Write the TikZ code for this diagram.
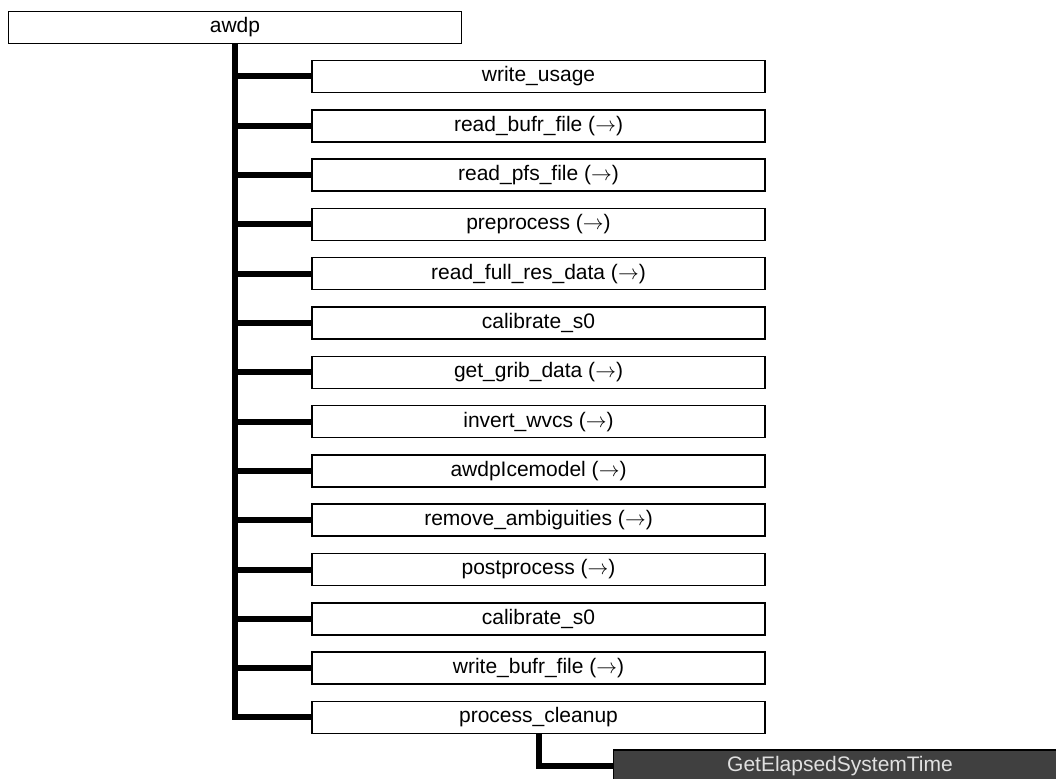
\documentclass[tikz,border=0pt]{standalone}
\usepackage{fontspec}
\setmainfont{Liberation Sans}
\definecolor{extcall}{HTML}{404040}

\begin{document}
\begin{tikzpicture}[x=1pt, y=-1pt,
    routine/.style={draw, line width=1.5pt, fill=white, minimum width=453pt,
          minimum height=32pt, inner sep=0pt, font=\fontsize{21}{24}\selectfont},
    external/.style={routine, fill=extcall, text=white!88!black},
    calls/.style={line width=6pt}]
    \useasboundingbox (0,0) rectangle (1056,778);
    \clip (0,0) rectangle (1056,778);

    % main program
    \node[routine] (awdp) at (235,27.5) {awdp};

    % routines called by awdp
    \node[routine] (usage)   at (538.5,76.5)  {write\_usage};
    \node[routine] (bufrin)  at (538.5,125.8) {read\_bufr\_file ($\rightarrow$)};
    \node[routine] (pfsin)   at (538.5,175.1) {read\_pfs\_file ($\rightarrow$)};
    \node[routine] (prep)    at (538.5,224.4) {preprocess ($\rightarrow$)};
    \node[routine] (fullres) at (538.5,273.7) {read\_full\_res\_data ($\rightarrow$)};
    \node[routine] (calA)    at (538.5,323.0) {calibrate\_s0};
    \node[routine] (grib)    at (538.5,372.3) {get\_grib\_data ($\rightarrow$)};
    \node[routine] (invert)  at (538.5,421.6) {invert\_wvcs ($\rightarrow$)};
    \node[routine] (ice)     at (538.5,470.9) {awdpIcemodel ($\rightarrow$)};
    \node[routine] (ambig)   at (538.5,520.2) {remove\_ambiguities ($\rightarrow$)};
    \node[routine] (post)    at (538.5,569.5) {postprocess ($\rightarrow$)};
    \node[routine] (calB)    at (538.5,618.8) {calibrate\_s0};
    \node[routine] (bufrout) at (538.5,668.1) {write\_bufr\_file ($\rightarrow$)};
    \node[routine] (cleanup) at (538.5,717.4) {process\_cleanup};

    % called by process_cleanup
    \node[external] (elapsed) at (840,766) {GetElapsedSystemTime};

    % call tree
    \draw[calls] (awdp.south) |- (cleanup.west);
    \foreach \callee in {usage,bufrin,pfsin,prep,fullres,calA,grib,invert,ice,ambig,post,calB,bufrout}
      \draw[calls] (awdp.south |- \callee.west) -- (\callee.west);
    \draw[calls] (cleanup.south) |- (elapsed.west);
  \end{tikzpicture}
\end{document}
